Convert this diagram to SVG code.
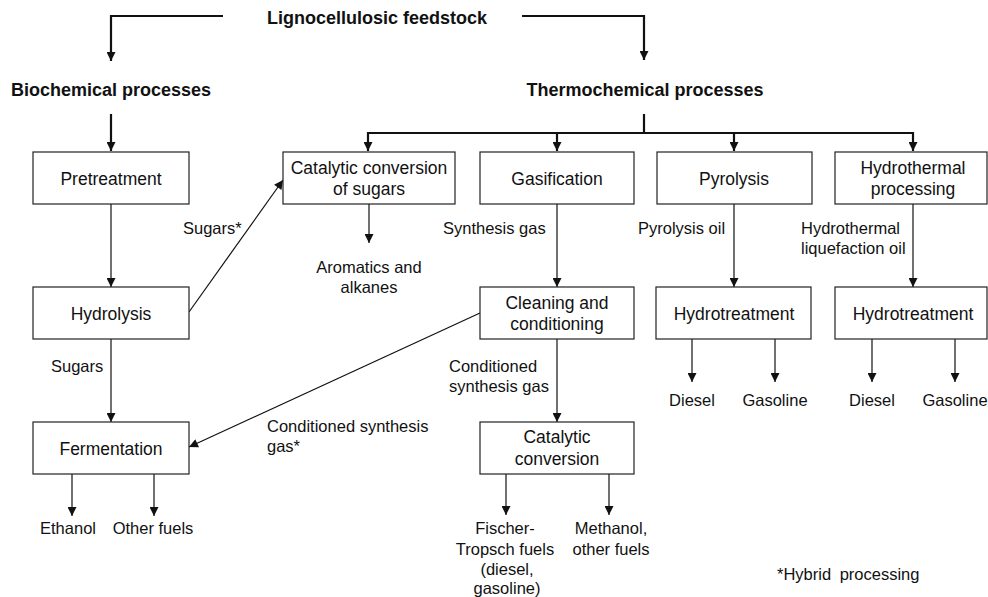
<svg xmlns="http://www.w3.org/2000/svg" width="988" height="597" viewBox="0 0 988 597">
  <defs>
    <style>
      .box { fill: #ffffff; stroke: #222222; stroke-width: 1.2; }
      .bt { font-family: "Liberation Sans", Arial, sans-serif; font-size: 17.5px; fill: #111111; text-anchor: middle; }
      .lb { font-family: "Liberation Sans", Arial, sans-serif; font-size: 16.5px; fill: #111111; }
      .mid { text-anchor: middle; }
      .hd { font-family: "Liberation Sans", Arial, sans-serif; font-size: 18px; font-weight: bold; fill: #111111; text-anchor: middle; }
      .thin { fill: none; stroke: #111111; stroke-width: 1.2; marker-end: url(#head); }
      .thick { fill: none; stroke: #111111; stroke-width: 2.2; }
      .thickA { fill: none; stroke: #111111; stroke-width: 2.2; marker-end: url(#headB); }
    </style>
    <marker id="head" viewBox="0 0 10 10" refX="10" refY="5" markerWidth="10" markerHeight="9" markerUnits="userSpaceOnUse" orient="auto">
      <path d="M0,0 L10,5 L0,10 z" fill="#111111"/>
    </marker>
    <marker id="headB" viewBox="0 0 10 10" refX="10" refY="5" markerWidth="10" markerHeight="9" markerUnits="userSpaceOnUse" orient="auto">
      <path d="M0,0 L10,5 L0,10 z" fill="#111111"/>
    </marker>
  </defs>

  <!-- headings -->
  <text class="hd" x="377" y="24">Lignocellulosic feedstock</text>
  <text class="hd" x="111" y="96">Biochemical processes</text>
  <text class="hd" x="645" y="96">Thermochemical processes</text>

  <!-- connectors -->
  <g id="connectors">
    <!-- top-level split -->
    <path class="thickA" d="M223,16 H111 V61"/>
    <path class="thickA" d="M522,16 H644 V60"/>
    <path class="thickA" d="M111,114 V151"/>
    <path class="thick" d="M644,114 V133"/>
    <path class="thick" d="M368,133 H913"/>
    <path class="thickA" d="M368,132 V151"/>
    <path class="thickA" d="M557,132 V151"/>
    <path class="thickA" d="M734,132 V151"/>
    <path class="thickA" d="M913,132 V151"/>

    <!-- biochemical chain -->
    <path class="thin" d="M111,204 V287"/>
    <path class="thin" d="M111,339 V422"/>
    <path class="thin" d="M189,312 L283,180"/>
    <path class="thin" d="M72,474 V516"/>
    <path class="thin" d="M154,474 V516"/>

    <!-- catalytic conversion of sugars output -->
    <path class="thin" d="M369,204 V243"/>

    <!-- gasification chain -->
    <path class="thin" d="M557,204 V287"/>
    <path class="thin" d="M557,339 V422"/>
    <path class="thin" d="M480,313 L189,447"/>
    <path class="thin" d="M506,474 V515"/>
    <path class="thin" d="M609,474 V515"/>

    <!-- pyrolysis chain -->
    <path class="thin" d="M734,204 V287"/>
    <path class="thin" d="M692,339 V382"/>
    <path class="thin" d="M775,339 V382"/>

    <!-- hydrothermal chain -->
    <path class="thin" d="M913,204 V287"/>
    <path class="thin" d="M872,339 V382"/>
    <path class="thin" d="M955,339 V382"/>
  </g>

  <!-- nodes -->
  <g id="pretreatment">
    <rect class="box" x="33" y="152" width="156" height="52"/>
    <text class="bt" x="111" y="185">Pretreatment</text>
  </g>
  <g id="catalytic-sugars">
    <rect class="box" x="283" y="152" width="172" height="52"/>
    <text class="bt" x="369" y="174">Catalytic conversion</text>
    <text class="bt" x="369" y="195">of sugars</text>
  </g>
  <g id="gasification">
    <rect class="box" x="480" y="152" width="154" height="52"/>
    <text class="bt" x="557" y="185">Gasification</text>
  </g>
  <g id="pyrolysis">
    <rect class="box" x="657" y="152" width="155" height="52"/>
    <text class="bt" x="734" y="185">Pyrolysis</text>
  </g>
  <g id="hydrothermal">
    <rect class="box" x="835" y="152" width="152" height="52"/>
    <text class="bt" x="913" y="174">Hydrothermal</text>
    <text class="bt" x="913" y="195">processing</text>
  </g>
  <g id="hydrolysis">
    <rect class="box" x="33" y="287" width="156" height="52"/>
    <text class="bt" x="111" y="320">Hydrolysis</text>
  </g>
  <g id="cleaning">
    <rect class="box" x="480" y="287" width="154" height="52"/>
    <text class="bt" x="557" y="309">Cleaning and</text>
    <text class="bt" x="557" y="330">conditioning</text>
  </g>
  <g id="hydrotreatment-1">
    <rect class="box" x="656" y="287" width="155" height="52"/>
    <text class="bt" x="734" y="320">Hydrotreatment</text>
  </g>
  <g id="hydrotreatment-2">
    <rect class="box" x="835" y="287" width="152" height="52"/>
    <text class="bt" x="913" y="320">Hydrotreatment</text>
  </g>
  <g id="fermentation">
    <rect class="box" x="33" y="422" width="156" height="52"/>
    <text class="bt" x="111" y="455">Fermentation</text>
  </g>
  <g id="catalytic-conversion">
    <rect class="box" x="480" y="422" width="154" height="52"/>
    <text class="bt" x="557" y="443">Catalytic</text>
    <text class="bt" x="557" y="465">conversion</text>
  </g>

  <!-- connector labels -->
  <text class="lb" x="183" y="234">Sugars*</text>
  <text class="lb" x="51" y="372">Sugars</text>
  <text class="lb" x="443" y="234">Synthesis gas</text>
  <text class="lb" x="638" y="234">Pyrolysis oil</text>
  <text class="lb" x="801" y="234">Hydrothermal</text>
  <text class="lb" x="801" y="254">liquefaction oil</text>
  <text class="lb" x="449" y="372">Conditioned</text>
  <text class="lb" x="449" y="392">synthesis gas</text>
  <text class="lb" x="267" y="432">Conditioned synthesis</text>
  <text class="lb" x="267" y="452">gas*</text>

  <!-- products -->
  <text class="lb mid" x="369" y="273">Aromatics and</text>
  <text class="lb mid" x="369" y="293">alkanes</text>
  <text class="lb mid" x="692" y="406">Diesel</text>
  <text class="lb mid" x="775" y="406">Gasoline</text>
  <text class="lb mid" x="872" y="406">Diesel</text>
  <text class="lb mid" x="955" y="406">Gasoline</text>
  <text class="lb mid" x="68" y="534">Ethanol</text>
  <text class="lb mid" x="153" y="534">Other fuels</text>
  <text class="lb mid" x="505" y="534">Fischer-</text>
  <text class="lb mid" x="505" y="555">Tropsch fuels</text>
  <text class="lb mid" x="507" y="575">(diesel,</text>
  <text class="lb mid" x="507" y="594">gasoline)</text>
  <text class="lb mid" x="611" y="534">Methanol,</text>
  <text class="lb mid" x="611" y="555">other fuels</text>

  <!-- footnote -->
  <text class="lb" x="777" y="580" font-size="17" word-spacing="4">*Hybrid processing</text>
</svg>
